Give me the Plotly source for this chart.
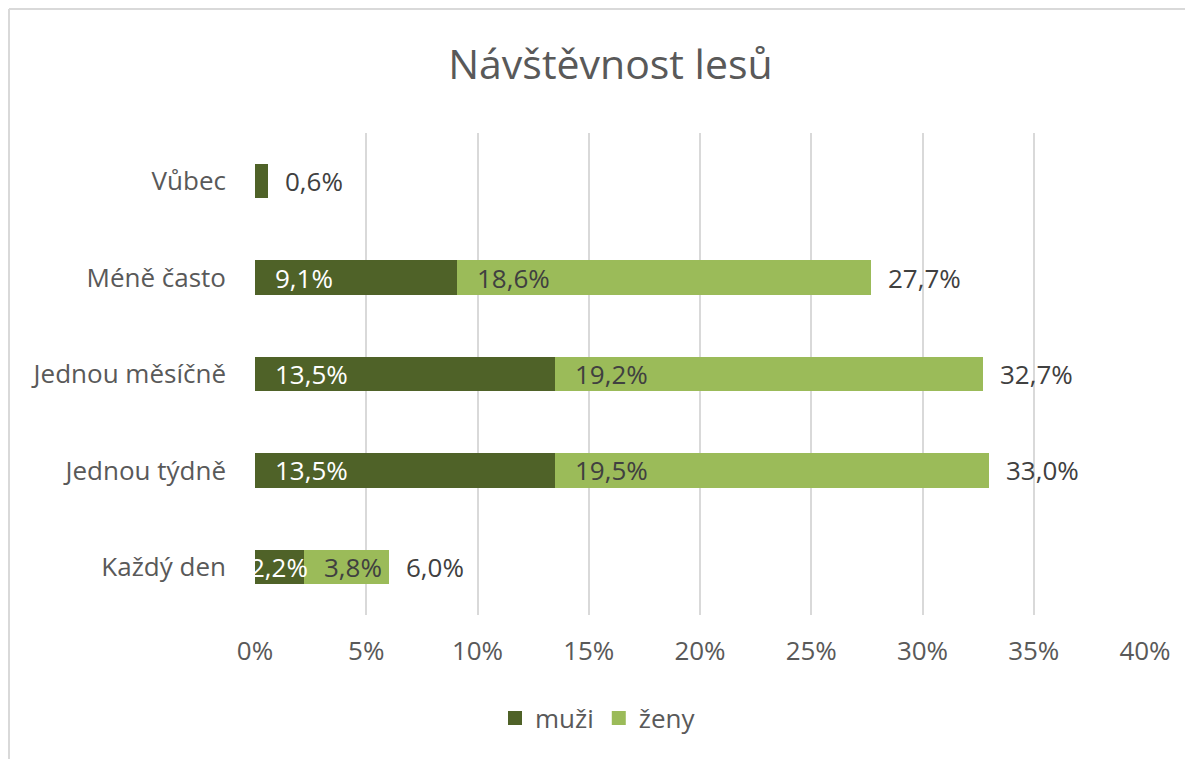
import plotly.graph_objects as go

# data (bottom -> top)
kategorie = ["Každý den", "Jednou týdně", "Jednou měsíčně", "Méně často", "Vůbec"]
muzi = [2.2, 13.5, 13.5, 9.1, 0.6]
zeny = [3.8, 19.5, 19.2, 18.6, 0.0]
celkem = [6.0, 33.0, 32.7, 27.7, 0.6]
x_ticks = [0, 5, 10, 15, 20, 25, 30, 35, 40]

W, H = 1193, 759
L, R, T, B = 247, 56, 125, 152
FONT = "Open Sans"
FS = 26
DARK = "#4F6228"
LIGHT = "#9BBB59"
TXT = "#404040"
GREY = "#595959"


def fmt(v):
    return f"{v:.1f}".replace(".", ",") + "%"


fig = go.Figure()
fig.add_trace(go.Bar(
    y=kategorie, x=muzi, orientation="h", name="muži", showlegend=False,
    marker=dict(color=DARK, line=dict(width=0)), hoverinfo="skip"))
fig.add_trace(go.Bar(
    y=kategorie, x=zeny, orientation="h", name="ženy", showlegend=False,
    marker=dict(color=LIGHT, line=dict(width=0)), hoverinfo="skip"))

# legend entries with larger square keys
for nm, col in [("muži", DARK), ("ženy", LIGHT)]:
    fig.add_trace(go.Scatter(x=[None], y=[None], mode="markers", name=nm,
                             marker=dict(symbol="square", size=14, color=col)))

# data labels inside the segments (inside base; centred when the segment is narrow)
for k, m, z in zip(kategorie, muzi, zeny):
    for base, v, col in [(0, m, "white"), (m, z, TXT)]:
        if v <= 1:
            continue
        if v < 3:
            fig.add_annotation(x=base + v / 2, y=k, text=fmt(v), showarrow=False,
                               xanchor="center", font=dict(family=FONT, size=FS, color=col))
        else:
            fig.add_annotation(x=base, y=k, text=fmt(v), showarrow=False,
                               xanchor="left", xshift=18,
                               font=dict(family=FONT, size=FS, color=col))

# totals
for k, c in zip(kategorie, celkem):
    fig.add_annotation(x=c, y=k, text=fmt(c), showarrow=False,
                       xanchor="left", xshift=15,
                       font=dict(family=FONT, size=FS, color=TXT))

# frame lines (top and left)
pw = W - L - R
ph = H - T - B
def px(x):
    return (x - L) / pw
def py(y):
    return (H - B - y) / ph

fig.add_shape(type="line", xref="paper", yref="paper",
              x0=px(1), x1=px(W), y0=py(1), y1=py(1),
              line=dict(color="#d9d9d9", width=2))
fig.add_shape(type="line", xref="paper", yref="paper",
              x0=px(1), x1=px(1), y0=py(1), y1=py(H),
              line=dict(color="#d9d9d9", width=2))

fig.update_layout(
    width=W, height=H,
    margin=dict(l=L, r=R, t=T, b=B),
    barmode="stack", bargap=0.645,
    plot_bgcolor="white", paper_bgcolor="white",
    title=dict(text="Návštěvnost lesů", x=0.505, xref="container", xanchor="center",
               y=1 - 57 / H, yref="container", yanchor="middle",
               font=dict(family=FONT, size=41, color=GREY)),
    legend=dict(orientation="h", x=px(590), xanchor="center", y=py(710), yanchor="middle",
                font=dict(family=FONT, size=FS, color=GREY),
                itemwidth=30, traceorder="normal"),
    xaxis=dict(range=[0, 40], tickvals=x_ticks, ticktext=[f"{t}%" for t in x_ticks],
               showgrid=True, gridcolor="#d9d9d9", gridwidth=2, zeroline=False,
               showline=False, ticks="", ticklabelstandoff=18,
               tickfont=dict(family=FONT, size=FS, color=GREY), fixedrange=True),
    yaxis=dict(showgrid=False, showline=False, ticks="", ticklabelstandoff=28,
               tickfont=dict(family=FONT, size=FS, color=GREY), fixedrange=True),
)

fig.write_html("out.html")
